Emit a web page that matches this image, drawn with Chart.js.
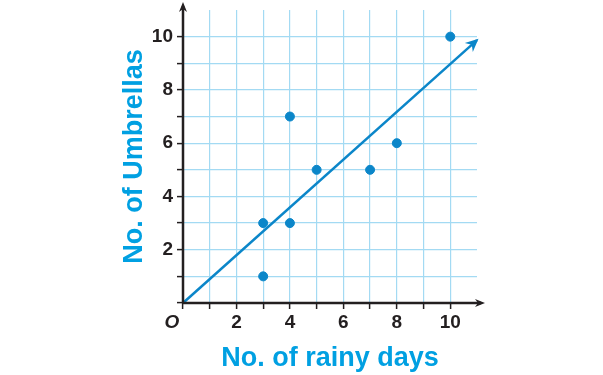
<!DOCTYPE html>
<html>
<head>
<meta charset="utf-8">
<script src="https://cdn.jsdelivr.net/npm/chart.js@4"></script>
<style>
  html, body { margin: 0; padding: 0; background: #fff; }
  #wrap { width: 603px; height: 375px; }
</style>
</head>
<body>
<div id="wrap"><canvas id="chart"></canvas></div>
<script>
// data
const rainyDays = [3, 3, 4, 4, 5, 7, 8, 10];
const umbrellas = [1, 3, 3, 7, 5, 5, 6, 10];
const fitDays = [0, 11];
const fitUmbrellas = [0, 9.87];
const tickValues = [2, 4, 6, 8, 10];

const dark = "#231f20";
const blue = "#0b86c9";
const cyan = "#00a0e2";
const gridBlue = "#a3daf3";

// axes with arrows, origin label, arrow head on the trend line
const axisArrows = {
    id: "axisArrows",
    afterDraw(chart) {
        const ctx = chart.ctx;
        const xs = chart.scales.x, ys = chart.scales.y;
        const area = chart.chartArea;
        const ox = xs.getPixelForValue(0), oy = ys.getPixelForValue(0);
        ctx.save();
        ctx.strokeStyle = dark;
        ctx.fillStyle = dark;
        ctx.lineWidth = 2.5;
        ctx.beginPath();
        ctx.moveTo(ox, oy);
        ctx.lineTo(area.right + 4, oy);
        ctx.moveTo(ox, oy);
        ctx.lineTo(ox, area.top - 4);
        ctx.stroke();
        // x arrow
        ctx.beginPath();
        ctx.moveTo(area.right + 8, oy);
        ctx.lineTo(area.right - 2, oy - 4);
        ctx.lineTo(area.right + 1, oy);
        ctx.lineTo(area.right - 2, oy + 4);
        ctx.closePath();
        ctx.fill();
        // y arrow
        ctx.beginPath();
        ctx.moveTo(ox, area.top - 8);
        ctx.lineTo(ox - 4, area.top + 2);
        ctx.lineTo(ox, area.top - 1);
        ctx.lineTo(ox + 4, area.top + 2);
        ctx.closePath();
        ctx.fill();
        // origin label
        ctx.font = "italic bold 19px 'Liberation Sans', Arial, sans-serif";
        ctx.textAlign = "center";
        ctx.textBaseline = "top";
        ctx.fillText("O", ox - 11, oy + 10);
        // arrow head on trend line
        const pts = chart.getDatasetMeta(1).data;
        const a = pts[pts.length - 2], b = pts[pts.length - 1];
        const ang = Math.atan2(b.y - a.y, b.x - a.x);
        ctx.fillStyle = blue;
        ctx.translate(b.x, b.y);
        ctx.rotate(ang);
        ctx.beginPath();
        ctx.moveTo(2, 0);
        ctx.lineTo(-11, -6);
        ctx.lineTo(-7, 0);
        ctx.lineTo(-11, 6);
        ctx.closePath();
        ctx.fill();
        ctx.restore();
    }
};

const gridColor = ctx => (ctx.tick && (ctx.tick.value === 0 || ctx.tick.value === 11)) ? "rgba(0,0,0,0)" : gridBlue;
const tickColor = ctx => (ctx.tick && ctx.tick.value === 11) ? "rgba(0,0,0,0)" : dark;
const tickLabel = v => tickValues.includes(v) ? String(v) : "";

new Chart(document.getElementById("chart"), {
    type: "scatter",
    data: {
        datasets: [{
            label: "Rainy days vs umbrellas",
            data: rainyDays.map((d, i) => ({ x: d, y: umbrellas[i] })),
            backgroundColor: blue,
            borderColor: blue,
            pointRadius: 4.5,
            pointHoverRadius: 4.5
        }, {
            label: "Trend",
            type: "line",
            data: fitDays.map((d, i) => ({ x: d, y: fitUmbrellas[i] })),
            borderColor: blue,
            borderWidth: 2.5,
            pointRadius: 0,
            fill: false,
            clip: false
        }]
    },
    options: {
        responsive: true,
        maintainAspectRatio: false,
        animation: false,
        layout: { padding: { left: 118, right: 126, top: 10, bottom: 0 } },
        plugins: { legend: { display: false }, tooltip: { enabled: false } },
        scales: {
            x: {
                type: "linear",
                min: 0, max: 11,
                afterFit: s => { s.height = 72; s.paddingLeft = 0; s.paddingRight = 0; },
                border: { display: false },
                grid: { color: gridColor, tickColor: tickColor, tickLength: 6, lineWidth: 1.2, tickWidth: 1.5 },
                ticks: {
                    stepSize: 1, autoSkip: false, maxRotation: 0, padding: 2,
                    color: dark, font: { family: "'Liberation Sans', Arial, sans-serif", size: 19, weight: "bold" },
                    callback: tickLabel
                },
                title: {
                    display: true, text: "No. of rainy days", color: cyan,
                    font: { family: "'Liberation Sans', Arial, sans-serif", size: 27, weight: "bold" },
                    padding: { top: 20, bottom: 0 }
                }
            },
            y: {
                type: "linear",
                min: 0, max: 11,
                afterFit: s => { s.width = 65; s.paddingTop = 0; s.paddingBottom = 0; },
                border: { display: false },
                grid: { color: gridColor, tickColor: tickColor, tickLength: 6, lineWidth: 1.2, tickWidth: 1.5 },
                ticks: {
                    stepSize: 1, autoSkip: false, padding: 4,
                    color: dark, font: { family: "'Liberation Sans', Arial, sans-serif", size: 19, weight: "bold" },
                    callback: tickLabel
                },
                title: {
                    display: true, text: "No. of Umbrellas", color: cyan,
                    font: { family: "'Liberation Sans', Arial, sans-serif", size: 27, weight: "bold" },
                    padding: { top: 0, bottom: 0 }
                }
            }
        }
    },
    plugins: [axisArrows]
});
</script>
</body>
</html>
